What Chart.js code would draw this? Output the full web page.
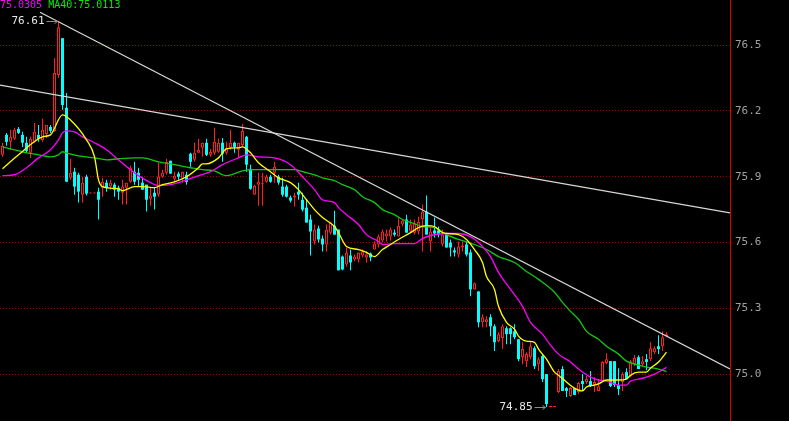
<!DOCTYPE html>
<html>
<head>
<meta charset="utf-8">
<style>
html, body { margin: 0; padding: 0; background: #000; overflow: hidden; }
canvas { display: block; }
</style>
</head>
<body>
<canvas id="kline" width="789" height="421"></canvas>
<script src="https://cdn.jsdelivr.net/npm/chart.js@4/dist/chart.umd.min.js"></script>
<script>
// candles, one per index 0..166
const opens = [
    76.000,76.091,76.059,76.073,76.118,76.091,76.055,76.009,76.059,76.091,
    76.068,76.095,76.127,76.109,76.364,76.532,76.214,75.895,75.923,75.909,
    75.818,75.900,75.823,75.823,75.832,75.850,75.873,75.855,75.864,75.850,
    75.827,75.850,75.877,75.923,75.918,75.873,75.864,75.800,75.827,75.818,
    75.900,75.918,75.973,75.891,75.914,75.891,75.909,76.005,75.977,76.009,
    76.032,76.055,76.000,76.009,76.014,76.055,76.009,76.032,76.055,76.023,
    76.045,76.082,75.936,75.818,75.864,75.868,75.877,75.900,75.918,75.900,
    75.855,75.855,75.805,75.805,75.832,75.795,75.759,75.705,75.605,75.664,
    75.618,75.591,75.645,75.677,75.659,75.536,75.500,75.541,75.523,75.523,
    75.541,75.532,75.550,75.568,75.591,75.609,75.627,75.627,75.645,75.627,
    75.682,75.705,75.650,75.645,75.650,75.705,75.741,75.605,75.655,75.655,
    75.591,75.636,75.600,75.564,75.545,75.577,75.591,75.555,75.386,75.377,
    75.236,75.236,75.259,75.218,75.150,75.164,75.209,75.209,75.195,75.159,
    75.077,75.059,75.077,75.118,75.045,75.082,75.000,74.850,74.850,74.918,
    75.023,74.936,74.900,74.936,74.918,74.968,74.964,74.968,74.950,74.923,
    74.968,75.050,75.059,75.059,74.950,74.964,75.009,74.991,75.045,75.077,
    75.045,75.068,75.068,75.100,75.127,75.127,75.173
];
const highs = [
    76.055,76.100,76.114,76.123,76.127,76.105,76.082,76.082,76.145,76.136,
    76.164,76.136,76.136,76.441,76.610,76.532,76.282,75.982,75.941,75.918,
    75.900,75.909,75.823,75.823,75.850,75.895,75.886,75.886,75.873,75.859,
    75.886,75.873,75.950,75.968,75.941,75.900,75.864,75.850,75.850,75.964,
    75.932,75.982,75.973,75.923,75.923,75.923,75.923,76.009,76.055,76.073,
    76.055,76.073,76.027,76.123,76.073,76.077,76.059,76.114,76.059,76.055,
    76.141,76.086,75.955,75.864,75.918,75.918,75.909,75.909,75.968,75.909,
    75.895,75.864,75.814,75.827,75.873,75.827,75.795,75.727,75.682,75.677,
    75.632,75.682,75.695,75.745,75.659,75.541,75.577,75.568,75.545,75.555,
    75.568,75.559,75.555,75.605,75.636,75.659,75.659,75.668,75.659,75.714,
    75.705,75.727,75.705,75.705,75.718,75.773,75.814,75.668,75.714,75.673,
    75.659,75.645,75.614,75.577,75.605,75.605,75.605,75.568,75.418,75.377,
    75.273,75.264,75.273,75.227,75.191,75.227,75.218,75.214,75.227,75.159,
    75.145,75.100,75.145,75.127,75.077,75.091,75.000,74.850,74.850,75.023,
    75.036,74.941,74.941,74.936,74.964,75.000,74.991,75.014,74.986,74.977,
    75.059,75.095,75.059,75.059,75.027,75.009,75.027,75.064,75.086,75.086,
    75.082,75.091,75.145,75.127,75.177,75.195,75.191
];
const lows = [
    75.991,76.041,76.023,76.068,76.095,76.036,76.009,75.986,76.055,76.059,
    76.059,76.077,76.100,76.105,76.350,76.205,75.877,75.886,75.818,75.782,
    75.782,75.814,75.823,75.823,75.705,75.809,75.832,75.841,75.809,75.795,
    75.773,75.773,75.873,75.864,75.855,75.841,75.741,75.768,75.750,75.809,
    75.895,75.909,75.914,75.877,75.886,75.873,75.864,75.945,75.968,76.009,
    75.991,75.995,75.991,76.000,76.009,75.968,76.000,76.023,76.009,75.986,
    76.036,75.923,75.841,75.818,75.768,75.768,75.873,75.873,75.873,75.864,
    75.809,75.805,75.782,75.764,75.795,75.741,75.691,75.541,75.591,75.600,
    75.559,75.559,75.636,75.636,75.473,75.473,75.491,75.473,75.514,75.509,
    75.532,75.509,75.514,75.568,75.577,75.600,75.605,75.609,75.627,75.627,
    75.673,75.645,75.645,75.636,75.636,75.559,75.636,75.559,75.623,75.623,
    75.582,75.577,75.536,75.536,75.532,75.559,75.536,75.355,75.386,75.214,
    75.214,75.214,75.173,75.105,75.145,75.114,75.136,75.136,75.159,75.059,
    75.045,75.032,75.068,75.023,75.014,74.964,74.850,74.850,74.850,74.914,
    74.923,74.895,74.895,74.905,74.909,74.923,74.955,74.941,74.918,74.923,
    74.964,75.045,74.941,74.941,74.905,74.923,74.977,74.986,75.036,75.023,
    75.036,75.018,75.059,75.091,75.091,75.105,75.168
];
const closes = [
    76.041,76.059,76.082,76.114,76.100,76.055,76.018,76.073,76.105,76.073,
    76.114,76.136,76.109,76.373,76.582,76.227,75.877,75.918,75.855,75.832,
    75.873,75.823,75.823,75.823,75.795,75.877,75.850,75.873,75.841,75.832,
    75.855,75.873,75.941,75.877,75.886,75.841,75.795,75.814,75.809,75.900,
    75.918,75.968,75.914,75.905,75.900,75.923,75.877,75.968,76.009,76.023,
    76.055,76.000,76.014,76.059,76.055,76.005,76.032,76.055,76.036,76.055,
    76.109,75.955,75.845,75.859,75.877,75.873,75.900,75.877,75.945,75.873,
    75.818,75.809,75.791,75.814,75.818,75.750,75.691,75.650,75.659,75.614,
    75.591,75.659,75.691,75.636,75.473,75.477,75.555,75.509,75.536,75.555,
    75.559,75.545,75.532,75.595,75.627,75.650,75.641,75.659,75.636,75.677,
    75.700,75.645,75.682,75.686,75.695,75.741,75.636,75.650,75.641,75.636,
    75.636,75.577,75.577,75.555,75.582,75.586,75.545,75.386,75.414,75.236,
    75.259,75.250,75.218,75.145,75.182,75.218,75.182,75.182,75.168,75.068,
    75.114,75.091,75.127,75.036,75.068,74.977,74.863,74.850,74.850,75.014,
    74.923,74.923,74.936,74.905,74.959,74.955,74.977,74.945,74.964,74.945,
    75.055,75.068,74.945,74.950,74.932,75.000,74.977,75.059,75.073,75.023,
    75.059,75.055,75.118,75.118,75.114,75.168,75.182
];

const maShortIdx = [0,4,10,12,15,17,21,23,24,25,29,30,33,35,38,40,43,46,49,50,51,54,56,59,60,62,64,67,69,72,74,76,78,80,83,84,86,89,91,93,95,97,99,102,104,106,108,110,114,116,118,120,121,123,124,126,128,129,131,133,134,136,138,139,141,143,145,146,148,149,151,154,156,157,159,161,162,164,166];
const maShortVal = [75.936,76.000,76.082,76.091,76.182,76.159,76.068,75.991,75.886,75.855,75.845,75.836,75.855,75.855,75.850,75.864,75.877,75.900,75.941,75.959,75.959,75.986,76.027,76.032,76.036,76.009,75.964,75.923,75.895,75.873,75.841,75.795,75.750,75.714,75.673,75.645,75.582,75.568,75.555,75.536,75.568,75.591,75.614,75.645,75.668,75.677,75.673,75.645,75.636,75.614,75.568,75.509,75.445,75.386,75.309,75.236,75.205,75.173,75.150,75.145,75.114,75.068,75.009,74.995,74.964,74.936,74.923,74.941,74.950,74.955,74.973,74.973,74.977,74.995,75.009,75.009,75.027,75.055,75.100];

const ma20Idx = [0,3,6,9,12,14,15,16,18,20,23,26,29,32,34,37,39,42,44,49,52,55,59,61,64,68,72,75,78,80,83,84,86,89,91,94,95,98,103,105,107,111,114,117,119,122,124,127,130,132,135,137,139,142,144,147,149,151,154,156,157,159,161,163,166];
const ma20Val = [75.905,75.909,75.941,75.986,76.023,76.068,76.100,76.109,76.105,76.082,76.055,76.023,75.977,75.932,75.905,75.873,75.859,75.864,75.873,75.905,75.923,75.955,75.986,76.000,75.991,75.986,75.955,75.900,75.841,75.795,75.782,75.759,75.727,75.682,75.636,75.605,75.591,75.595,75.595,75.618,75.632,75.641,75.641,75.627,75.600,75.536,75.464,75.386,75.309,75.236,75.182,75.132,75.091,75.055,75.023,74.986,74.973,74.968,74.950,74.950,74.968,74.977,74.986,75.000,75.0305];

const ma40Idx = [0,3,6,9,12,14,15,16,19,23,26,29,33,35,39,43,47,50,53,55,56,58,60,63,67,70,73,75,78,80,83,85,88,90,93,95,98,100,103,105,108,111,114,118,121,124,128,131,134,138,140,142,144,146,149,151,154,156,159,161,164,166];
const ma40Val = [76.036,76.023,76.009,76.000,75.991,76.000,76.014,76.009,75.995,75.986,75.977,75.982,75.986,75.986,75.968,75.955,75.941,75.932,75.927,75.909,75.905,75.914,75.927,75.932,75.932,75.932,75.932,75.923,75.909,75.895,75.882,75.864,75.841,75.809,75.782,75.750,75.727,75.705,75.686,75.673,75.668,75.636,75.614,75.591,75.568,75.536,75.509,75.468,75.432,75.373,75.327,75.286,75.250,75.195,75.159,75.127,75.091,75.059,75.041,75.032,75.023,75.0113];

// the two drawn trend lines (index, price at each end)
const trendAIdx = [9.375, 181.875];
const trendAVal = [76.650, 75.023];
const trendBIdx = [-0.625, 181.875];
const trendBVal = [76.318, 75.735];

const yTicks = [75.0, 75.3, 75.6, 75.9, 76.2, 76.5];

const RED = '#ff2020';
const CYAN = '#00ffff';
const up = opens.map((o, i) => closes[i] >= o);

const pts = (idx, vals) => idx.map((x, k) => ({ x: x, y: vals[k] }));

function maLine(label, idx, vals, color) {
    return {
        type: 'line', label, order: 1,
        data: pts(idx, vals),
        borderColor: color, borderWidth: 1.3,
        pointRadius: 0, cubicInterpolationMode: 'monotone'
    };
}

// high / low markers and the MA text at top left
const overlay = {
    id: 'overlay',
    afterDatasetsDraw(chart) {
        const { ctx, scales: { x, y } } = chart;
        ctx.save();
        const hi = highs.indexOf(Math.max(...highs));
        const lo = lows.indexOf(Math.min(...lows));
        ctx.font = '11px "DejaVu Sans Mono"';
        ctx.textBaseline = 'middle';
        ctx.textAlign = 'right';
        [[hi, highs[hi]], [lo, lows[lo]]].forEach(([i, v]) => {
            const px = Math.round(x.getPixelForValue(i)) - 1.5;
            const py = Math.round(y.getPixelForValue(v)) + 0.5;
            ctx.strokeStyle = '#8a8a8a';
            ctx.lineWidth = 1;
            ctx.beginPath();
            ctx.moveTo(px - 11, py); ctx.lineTo(px, py);
            ctx.moveTo(px - 3, py - 2); ctx.lineTo(px, py); ctx.lineTo(px - 3, py + 2);
            ctx.stroke();
            ctx.fillStyle = '#e8e8e8';
            ctx.fillText(v.toFixed(2), px - 13, py);
        });
        ctx.font = '10px "DejaVu Sans Mono"';
        ctx.textAlign = 'left';
        ctx.textBaseline = 'alphabetic';
        const t1 = ma20Val[ma20Val.length - 1].toFixed(4);
        ctx.fillStyle = '#ff00ff';
        ctx.fillText(t1, 0, 8);
        ctx.fillStyle = '#00ee00';
        ctx.fillText('MA40:' + ma40Val[ma40Val.length - 1].toFixed(4), ctx.measureText(t1 + ' ').width, 8);
        ctx.restore();
    }
};

new Chart(document.getElementById('kline'), {
    type: 'bar',
    data: {
        datasets: [
            {
                type: 'line', label: 'trendA', order: 0,
                data: pts(trendAIdx, trendAVal),
                borderColor: '#d8d8d8', borderWidth: 1.2, pointRadius: 0
            },
            {
                type: 'line', label: 'trendB', order: 0,
                data: pts(trendBIdx, trendBVal),
                borderColor: '#d8d8d8', borderWidth: 1.2, pointRadius: 0
            },
            maLine('MA10', maShortIdx, maShortVal, '#ffff00'),
            maLine('MA20', ma20Idx, ma20Val, '#ff00ff'),
            maLine('MA40', ma40Idx, ma40Val, '#10c810'),
            {
                label: 'body', order: 2,
                data: opens.map((o, i) => ({ x: i, y: [o, closes[i]] })),
                backgroundColor: up.map(u => u ? '#000000' : CYAN),
                borderColor: up.map(u => u ? RED : CYAN),
                borderWidth: up.map(u => u ? 1 : 0),
                borderSkipped: false, barThickness: 3, grouped: false,
                minBarLength: 1, inflateAmount: 0
            },
            {
                label: 'wick', order: 3,
                data: highs.map((h, i) => ({ x: i, y: [lows[i], h] })),
                backgroundColor: up.map(u => u ? RED : CYAN),
                borderWidth: 0, borderSkipped: false, barThickness: 1, grouped: false,
                minBarLength: 1, inflateAmount: 0
            }
        ]
    },
    options: {
        responsive: false,
        animation: false,
        layout: { padding: 0 },
        plugins: { legend: { display: false }, tooltip: { enabled: false } },
        scales: {
            x: { type: 'linear', min: -0.625, max: 181.875, offset: false, display: false },
            y: {
                position: 'right',
                min: 74.786, max: 76.706,
                afterBuildTicks: s => { s.ticks = yTicks.map(v => ({ value: v })); },
                afterFit: s => { s.width = 59; s.paddingTop = 0; s.paddingBottom = 0; },
                ticks: {
                    color: '#a0a0a0', padding: 5,
                    font: { family: 'DejaVu Sans Mono', size: 11 },
                    callback: v => Number(v).toFixed(1)
                },
                grid: { color: '#a00000', drawTicks: false },
                border: { display: true, color: '#dd0000', width: 1, dash: [1, 2] }
            }
        }
    },
    plugins: [overlay]
});
</script>
</body>
</html>
